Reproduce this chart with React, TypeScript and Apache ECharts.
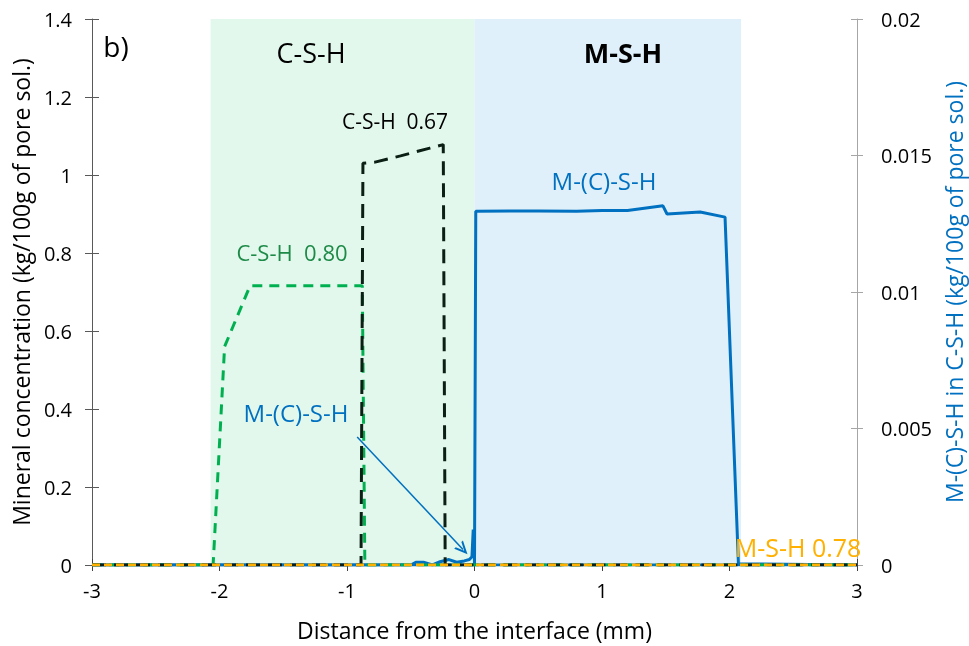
import React, { useEffect, useRef } from "react";
import * as echarts from "echarts";

const FONT = "'Open Sans', 'Noto Sans', sans-serif";

// Green dashed: C-S-H 0.80
const cshGreenX = [-3, -2.05, -1.96, -1.76, -0.88, -0.86, 3];
const cshGreenY = [0, 0, 0.56, 0.716, 0.716, 0, 0];

// Black dashed: C-S-H 0.67
const cshBlackX = [-3, -0.89, -0.875, -0.78, -0.58, -0.35, -0.245, -0.23, 3];
const cshBlackY = [0, 0, 1.03, 1.033, 1.049, 1.069, 1.078, 0, 0];

// Blue solid: M-(C)-S-H (left axis)
const mcshX = [-3, 0.0, 0.01, 0.5, 0.8, 1.0, 1.2, 1.478, 1.51, 1.77, 1.965, 2.07, 3];
const mcshY = [0, 0, 0.907, 0.908, 0.907, 0.909, 0.909, 0.921, 0.9, 0.905, 0.892, 0.003, 0];

// Blue solid: M-(C)-S-H in C-S-H (right axis)
const mcshInCshX = [-3, -0.5, -0.46, -0.4, -0.33, -0.27, -0.2, -0.14, -0.08, -0.04, -0.02, -0.01, -0.003, 0.0, 3];
const mcshInCshY = [0, 0, 0.0001, 0.0001, 0, 0.00012, 0.0002, 0.0001, 0.00015, 0.0002, 0.0003, 0.0013, 0.0008, 0, 0];

// Orange dashed: M-S-H 0.78
const mshX = [-3, 3];
const mshY = [0, 0];

const zones = [
  { from: -2.07, to: 0, color: "#e2f8ec" },
  { from: 0, to: 2.09, color: "#dff0fa" },
];

const pairs = (xs: number[], ys: number[]) => xs.map((x, i) => [x, ys[i]]);

export default function App() {
  const ref = useRef<HTMLDivElement>(null);
  useEffect(() => {
    if (!ref.current) return;
    const chart = echarts.init(ref.current, null, { renderer: "svg" });
    const axisLabel = { fontFamily: FONT, fontSize: 20, color: "#000" };
    const nameStyle = { fontFamily: FONT, fontSize: 23, color: "#000" };
    const txt = (text: string, x: number, y: number, size: number, fill: string, weight = "normal") => ({
      type: "text",
      x,
      y,
      z: 100,
      style: {
        text,
        font: `${weight} ${size}px ${FONT}`,
        fill,
        textAlign: "center",
        textVerticalAlign: "middle",
      },
    });
    const option: any = {
      animation: false,
      textStyle: { fontFamily: FONT },
      grid: { left: 92, right: 112, top: 19, bottom: 81, containLabel: false, outerBoundsMode: "none" },
      xAxis: [
        {
          type: "value",
          min: -3,
          max: 3,
          interval: 1,
          splitLine: { show: false },
          axisLine: { onZero: false, lineStyle: { color: "#404040", width: 1 } },
          axisTick: { length: 6, lineStyle: { color: "#404040" } },
          axisLabel: { ...axisLabel, margin: 15, formatter: (v: number) => String(v) },
          name: "Distance from the interface (mm)",
          nameLocation: "middle",
          nameGap: 53,
          nameTextStyle: nameStyle,
        },
        {
          type: "value",
          min: -3,
          max: 3,
          interval: 1,
          position: "bottom",
          splitLine: { show: false },
          axisLine: { show: false, onZero: false },
          axisTick: { inside: true, length: 6, lineStyle: { color: "#404040" } },
          axisLabel: { show: false },
        },
      ],
      yAxis: [
        {
          type: "value",
          min: 0,
          max: 1.4,
          interval: 0.2,
          splitLine: { show: false },
          axisLine: { show: true, onZero: false, lineStyle: { color: "#595959" } },
          axisTick: { show: true, length: 7, lineStyle: { color: "#595959" } },
          axisLabel: { ...axisLabel, margin: 20, formatter: (v: number) => String(Math.round(v * 10) / 10) },
          name: "Mineral concentration (kg/100g of pore sol.)",
          nameLocation: "middle",
          nameGap: 58,
          nameTextStyle: nameStyle,
        },
        {
          type: "value",
          min: 0,
          max: 0.02,
          interval: 0.005,
          position: "right",
          splitLine: { show: false },
          axisLine: { show: true, onZero: false, lineStyle: { color: "#a6a6a6" } },
          axisTick: { show: true, length: 6, lineStyle: { color: "#a6a6a6" } },
          axisLabel: { ...axisLabel, margin: 24, formatter: (v: number) => String(Math.round(v * 1000) / 1000) },
          name: "M-(C)-S-H in C-S-H (kg/100g of pore sol.)",
          nameLocation: "middle",
          nameGap: 83,
          nameRotate: 90,
          nameTextStyle: { ...nameStyle, color: "#0070c0" },
        },
        {
          type: "value",
          min: 0,
          max: 1.4,
          interval: 0.2,
          position: "left",
          splitLine: { show: false },
          axisLine: { show: false, onZero: false },
          axisTick: { show: true, inside: true, length: 7, lineStyle: { color: "#595959" } },
          axisLabel: { show: false },
        },
        {
          type: "value",
          min: 0,
          max: 0.02,
          interval: 0.005,
          position: "right",
          splitLine: { show: false },
          axisLine: { show: false, onZero: false },
          axisTick: { show: true, inside: true, length: 6, lineStyle: { color: "#a6a6a6" } },
          axisLabel: { show: false },
        },
      ],
      series: [
        {
          type: "line",
          name: "zones",
          data: [],
          xAxisIndex: 0,
          yAxisIndex: 0,
          markArea: {
            silent: true,
            data: zones.map((z) => [
              { xAxis: z.from, itemStyle: { color: z.color } },
              { xAxis: z.to },
            ]),
          },
        },
        {
          type: "line",
          name: "M-(C)-S-H",
          data: pairs(mcshX, mcshY),
          showSymbol: false,
          lineStyle: { color: "#0070c0", width: 3 },
          z: 3,
          markLine: {
            silent: true,
            symbol: ["none", "path://M5,0 L10,11 L8.2,11 L5,4 L1.8,11 L0,11 Z"],
            symbolSize: [12, 13],
            label: { show: false },
            lineStyle: { color: "#0070c0", width: 1.5, type: "solid" },
            data: [[{ coord: [-0.92, 0.328] }, { coord: [-0.09, 0.04] }]],
          },
        },
        {
          type: "line",
          name: "M-(C)-S-H in C-S-H",
          yAxisIndex: 1,
          data: pairs(mcshInCshX, mcshInCshY),
          showSymbol: false,
          lineStyle: { color: "#0070c0", width: 3 },
          z: 3,
        },
        {
          type: "line",
          name: "C-S-H 0.80",
          data: pairs(cshGreenX, cshGreenY),
          showSymbol: false,
          lineStyle: { color: "#00b050", width: 3, type: [10, 7] },
          z: 4,
        },
        {
          type: "line",
          name: "C-S-H 0.67",
          data: pairs(cshBlackX, cshBlackY),
          showSymbol: false,
          lineStyle: { color: "#0c1f14", width: 3, type: [14, 8] },
          z: 5,
        },
        {
          type: "line",
          name: "M-S-H 0.78",
          data: pairs(mshX, mshY),
          showSymbol: false,
          lineStyle: { color: "#ffb000", width: 3, type: [8, 4] },
          z: 6,
        },
      ],
      graphic: [
        txt("b)", 116, 46, 28, "#000"),
        txt("C-S-H", 311, 52, 27, "#000"),
        txt("M-S-H", 623, 52, 27, "#000", "bold"),
        txt("C-S-H  0.67", 395, 121, 21, "#000"),
        txt("C-S-H  0.80", 292, 252, 22, "#1e8a48"),
        txt("M-(C)-S-H", 604, 180, 24, "#0070c0"),
        txt("M-(C)-S-H", 296, 412, 24, "#0070c0"),
        txt("M-S-H 0.78", 798, 547, 25, "#ffb000"),
      ],
    };
    chart.setOption(option);
    return () => chart.dispose();
  }, []);
  return <div ref={ref} style={{ position: "fixed", left: 0, top: 0, width: 969, height: 646 }} />;
}
